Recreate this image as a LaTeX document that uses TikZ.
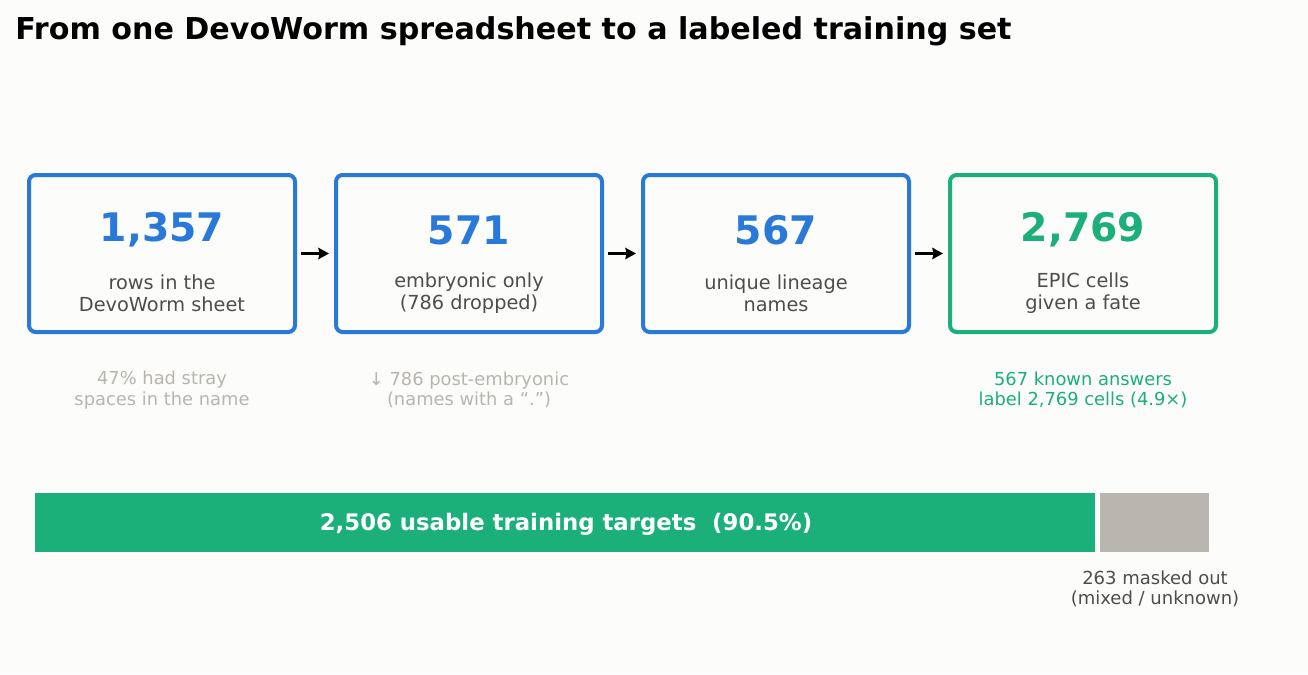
\documentclass[tikz,border=0pt]{standalone}
\usepackage{fontspec}
\setmainfont{DejaVu Sans}
\usepackage{xcolor}
\usetikzlibrary{arrows.meta}

\definecolor{stageblue}{RGB}{41,121,216}
\definecolor{fategreen}{RGB}{27,175,121}
\definecolor{notegray}{RGB}{184,181,174}
\definecolor{labelgray}{RGB}{77,77,77}
\definecolor{maskgray}{RGB}{184,182,174}
\definecolor{paper}{RGB}{252,252,251}

\tikzset{
  stagebox/.style={draw=stageblue, line width=3pt, rounded corners=5pt, minimum width=199.5pt, minimum height=117.75pt, inner sep=0pt},
  bignum/.style={font=\bfseries\fontsize{29.5}{35}\selectfont, text=stageblue, inner sep=0pt},
  stagetext/.style={font=\fontsize{14.5}{16.8}\selectfont, text=labelgray, align=center, inner sep=0pt},
  notetext/.style={font=\fontsize{13.4}{15.5}\selectfont, text=notegray, align=center, inner sep=0pt},
  flowarrow/.style={line width=2.4pt, -{Stealth[length=8pt,width=8.5pt,inset=1pt]}, shorten <=3pt, shorten >=3.75pt},
}

\begin{document}
\begin{tikzpicture}[x=0.75pt,y=0.75pt,yscale=-1,xscale=1]
        %set diagram to 1308 x 674
        \fill[paper] (0,0) rectangle (1308,674);
        \useasboundingbox (0,0) rectangle (1308,674);

        % Title
        \node[anchor=base west, inner sep=0pt, font=\bfseries\fontsize{22.6}{27}\selectfont] (title) at (15,40) {From one DevoWorm spreadsheet to a labeled training set};

        %Shape: Stage boxes
        \node[stagebox] (rows) at (162,253.5) {};
        \node[stagebox] (embryo) at (469,253.5) {};
        \node[stagebox] (lineage) at (776,253.5) {};
        \node[stagebox, draw=fategreen] (epic) at (1083,253.5) {};

        % Text Node
        \node[bignum] (rowsnum) at (162,230) {1,357};
        \node[stagetext] (rowstext) at (162,293) {rows in the\\DevoWorm sheet};
        % Text Node
        \node[bignum] (embryonum) at (469,230) {571};
        \node[stagetext] (embryotext) at (469,293) {embryonic only\\(786 dropped)};
        % Text Node
        \node[bignum] (lineagenum) at (776,230) {567};
        \node[stagetext] (lineagetext) at (776,293) {unique lineage\\names};
        % Text Node
        \node[bignum, text=fategreen] (epicnum) at (1083,230) {2,769};
        \node[stagetext] (epictext) at (1083,293) {EPIC cells\\given a fate};

        % Arrows
        \draw[flowarrow] (rows) -- (embryo);
        \draw[flowarrow] (embryo) -- (lineage);
        \draw[flowarrow] (lineage) -- (epic);

        % Notes under boxes
        \node[notetext] (rowsnote) at (162,390) {47\% had stray\\spaces in the name};
        \node[notetext] (embryonote) at (469,390) {↓ 786 post-embryonic\\(names with a “.”)};
        \node[notetext, text=fategreen] (epicnote) at (1083,390) {567 known answers\\label 2,769 cells (4.9×)};

        %Shape: Bar
        \node[fill=fategreen, minimum width=795pt, minimum height=44.25pt, inner sep=0pt] (usable) at (565,522.5) {};
        \node[text=white, inner sep=0pt, font=\bfseries\fontsize{17.1}{20}\selectfont] (usabletext) at (566,524) {2,506 usable training targets\ \ (90.5\%)};
        \node[fill=maskgray, minimum width=81.75pt, minimum height=44.25pt, inner sep=0pt] (masked) at (1154.5,522.5) {};
        % Text Node
        \node[stagetext, font=\fontsize{13.5}{15.5}\selectfont] (maskednote) at (1155,589) {263 masked out\\(mixed / unknown)};

\end{tikzpicture}
\end{document}
